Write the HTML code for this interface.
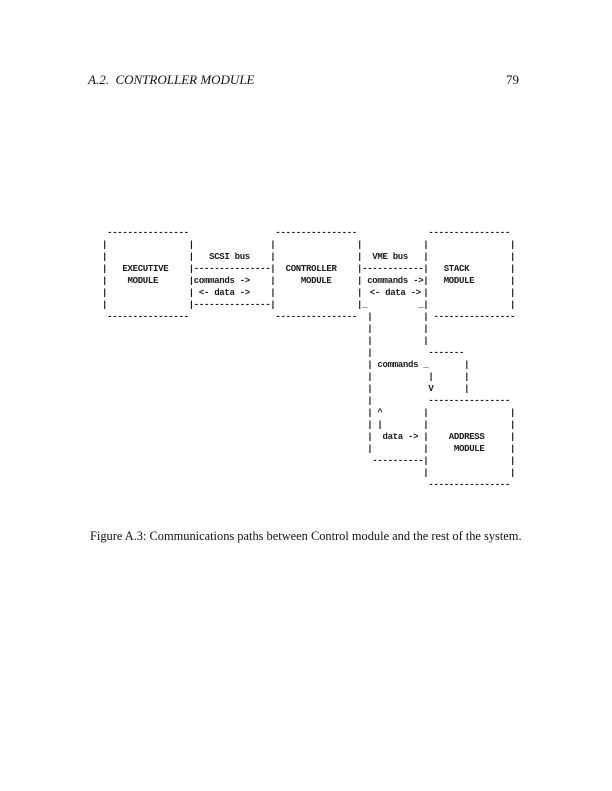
<!DOCTYPE html>
<html><head><meta charset="utf-8"><style>
html,body{margin:0;padding:0;background:#fff;}
body{width:612px;height:791px;position:relative;overflow:hidden;}
.h{position:absolute;font-family:"Liberation Serif",serif;color:#111;}
.d{position:absolute;font-family:"Liberation Mono",monospace;font-weight:bold;font-size:9px;letter-spacing:-0.3px;line-height:10px;color:#1a1a1a;white-space:pre;}
</style></head><body>
<div class="h" style="left:88px;top:72px;font-size:13px;font-style:italic;">A.2.&nbsp;&nbsp;CONTROLLER MODULE</div>
<div class="h" style="left:506px;top:72px;font-size:13px;">79</div>
<div class="h" style="left:90px;top:529px;font-size:12.4px;white-space:nowrap;">Figure A.3: Communications paths between Control module and the rest of the system.</div>
<div id="dg"></div>
<script>
var R=[
[0,[[1,"----------------"],[34,"----------------"],[64,"----------------"]]],
[1,[[0,"|"],[17,"|"],[33,"|"],[50,"|"],[63,"|"],[80,"|"]]],
[2,[[0,"|"],[17,"|"],[21,"SCSI bus"],[33,"|"],[50,"|"],[53,"VME bus"],[63,"|"],[80,"|"]]],
[3,[[0,"|"],[4,"EXECUTIVE"],[17,"|---------------|"],[36,"CONTROLLER"],[50,"|------------|"],[67,"STACK"],[80,"|"]]],
[4,[[0,"|"],[5,"MODULE"],[17,"|"],[18,"commands ->"],[33,"|"],[39,"MODULE"],[50,"|"],[52,"commands ->"],[63,"|"],[67,"MODULE"],[80,"|"]]],
[5,[[0,"|"],[17,"|"],[19,"<- data ->"],[33,"|"],[50,"|"],[52.5,"<- data ->"],[63,"|"],[80,"|"]]],
[6,[[0,"|"],[17,"|---------------|"],[50,"|_"],[62,"_|"],[80,"|"]]],
[7,[[1,"----------------"],[34,"----------------"],[52,"|"],[63,"|"],[65,"----------------"]]],
[8,[[52,"|"],[63,"|"]]],
[9,[[52,"|"],[63,"|"]]],
[10,[[52,"|"],[64,"-------"]]],
[11,[[52,"|"],[54,"commands"],[63,"_"],[71,"|"]]],
[12,[[52,"|"],[64,"|"],[71,"|"]]],
[13,[[52,"|"],[64,"V"],[71,"|"]]],
[14,[[52,"|"],[64,"----------------"]]],
[15,[[52,"|"],[54,"^"],[63,"|"],[80,"|"]]],
[16,[[52,"|"],[54,"|"],[63,"|"],[80,"|"]]],
[17,[[52,"|"],[55,"data ->"],[63,"|"],[68,"ADDRESS"],[80,"|"]]],
[18,[[52,"|"],[63,"|"],[69,"MODULE"],[80,"|"]]],
[19,[[53,"----------"],[63,"|"],[80,"|"]]],
[20,[[63,"|"],[80,"|"]]],
[21,[[64,"----------------"]]]
];
var h="";
R.forEach(function(r){var y=233+r[0]*12-5;r[1].forEach(function(s){
h+='<div class="d" style="left:'+(102+s[0]*5.1).toFixed(1)+'px;top:'+y+'px">'+s[1].replace(/</g,"&lt;").replace(/>/g,"&gt;")+'</div>';});});
document.getElementById("dg").innerHTML=h;
</script>
</body></html>
